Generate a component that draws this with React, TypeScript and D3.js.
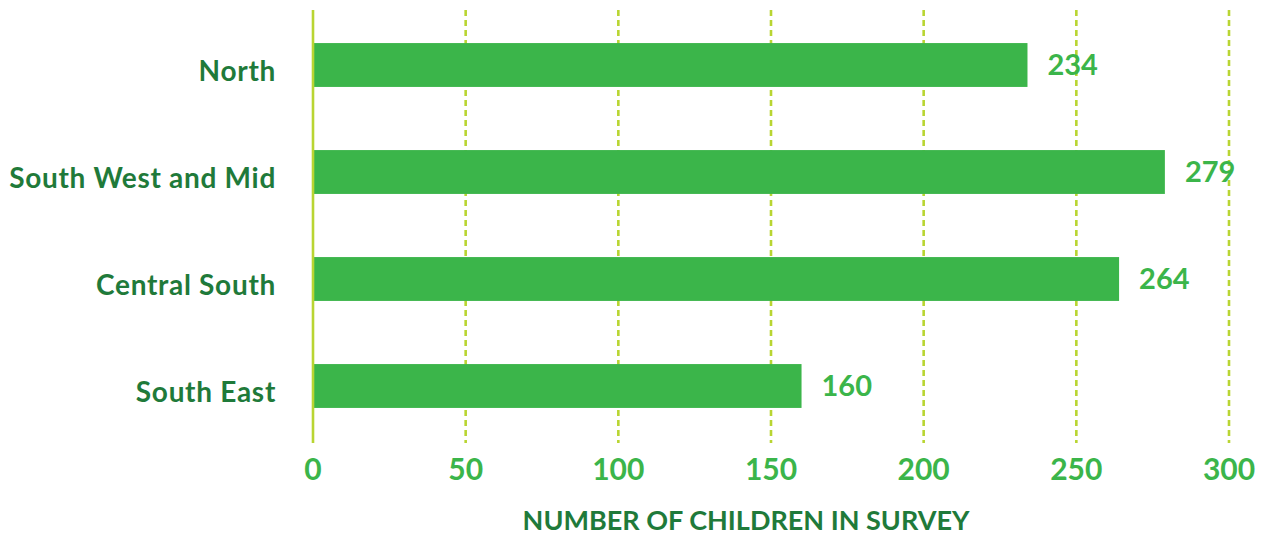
import React, { useEffect, useRef } from "react";
import * as d3 from "d3";

const categories = ["North", "South West and Mid", "Central South", "South East"];
const values = [234, 279, 264, 160];
const tickValues = [0, 50, 100, 150, 200, 250, 300];
const axisTitle = "NUMBER OF CHILDREN IN SURVEY";

const W = 1272;
const H = 535;
const FONT = "Lato, 'Open Sans', sans-serif";
const BAR = "#3bb54a";
const DARK = "#1f7a3a";
const GRID = "#b9d532";

export default function App() {
  const ref = useRef<SVGSVGElement>(null);
  useEffect(() => {
    const svg = d3.select(ref.current);
    svg.selectAll("*").remove();
    const x = d3.scaleLinear().domain([0, 300]).range([313, 1229]);
    const y = d3
      .scaleBand<string>()
      .domain(categories)
      .range([11.5, 439.5])
      .paddingInner(0.59)
      .paddingOuter(0.295);

    // grid
    svg
      .append("g")
      .selectAll("line")
      .data(tickValues.filter((t) => t > 0))
      .join("line")
      .attr("x1", (d) => x(d))
      .attr("x2", (d) => x(d))
      .attr("y1", 10)
      .attr("y2", 443)
      .attr("stroke", GRID)
      .attr("stroke-width", 2.6)
      .attr("stroke-dasharray", "6,4");

    // bars
    svg
      .append("g")
      .selectAll("rect")
      .data(values)
      .join("rect")
      .attr("x", x(0))
      .attr("y", (_, i) => y(categories[i])!)
      .attr("width", (d) => x(d) - x(0))
      .attr("height", y.bandwidth())
      .attr("fill", BAR);

    // axis line
    svg
      .append("line")
      .attr("x1", x(0))
      .attr("x2", x(0))
      .attr("y1", 10)
      .attr("y2", 443)
      .attr("stroke", GRID)
      .attr("stroke-width", 2.6);

    // value labels
    svg
      .append("g")
      .selectAll("text")
      .data(values)
      .join("text")
      .attr("x", (d) => x(d) + 20)
      .attr("y", (_, i) => y(categories[i])! + y.bandwidth() / 2)
      .attr("dy", "0.35em")
      .attr("fill", BAR)
      .attr("font-family", FONT)
      .attr("font-weight", 700)
      .attr("font-size", 29)
      .text((d) => String(d));

    // category labels
    svg
      .append("g")
      .selectAll("text")
      .data(categories)
      .join("text")
      .attr("x", 276)
      .attr("y", (d) => y(d)! + y.bandwidth() / 2 + 6)
      .attr("dy", "0.35em")
      .attr("text-anchor", "end")
      .attr("fill", DARK)
      .attr("font-family", FONT)
      .attr("font-weight", 700)
      .attr("font-size", 28)
      .attr("letter-spacing", 0.7)
      .text((d) => d);

    // tick labels
    svg
      .append("g")
      .selectAll("text")
      .data(tickValues)
      .join("text")
      .attr("x", (d) => x(d))
      .attr("y", 480)
      .attr("text-anchor", "middle")
      .attr("fill", BAR)
      .attr("font-family", FONT)
      .attr("font-weight", 700)
      .attr("font-size", 30)
      .text((d) => String(d));

    svg
      .append("text")
      .attr("x", 746)
      .attr("y", 530)
      .attr("text-anchor", "middle")
      .attr("fill", DARK)
      .attr("font-family", FONT)
      .attr("font-weight", 700)
      .attr("font-size", 27)
      .text(axisTitle);
  }, []);
  return (
    <svg
      ref={ref}
      width={W}
      height={H}
      style={{ position: "absolute", left: 0, top: 0, background: "#fff" }}
    />
  );
}
